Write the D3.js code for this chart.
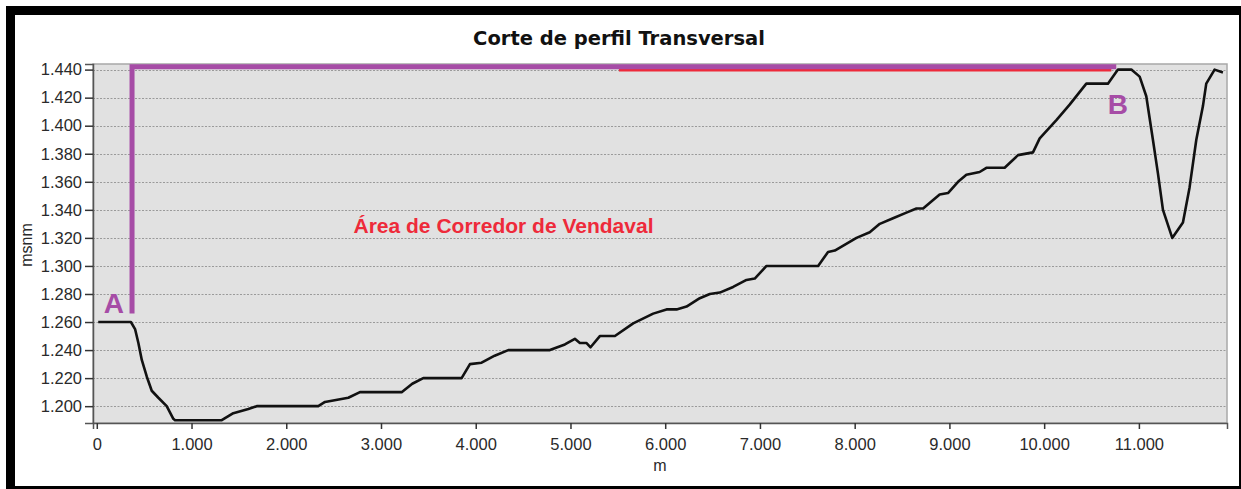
<!DOCTYPE html>
<html>
<head>
<meta charset="utf-8">
<script src="https://cdn.jsdelivr.net/npm/d3@7"></script>
<style>
  body { margin: 0; background: #fff; }
  svg { display: block; }
</style>
</head>
<body>
<div id="chart"></div>
<script>
// profile data: distance (m) and elevation (msnm)
const distance = [15, 360, 404, 439, 475, 528, 580, 650, 738, 808, 826, 1319, 1441, 1600, 1688,
  2338, 2409, 2655, 2778, 3218, 3330, 3446, 3851, 3939, 4062, 4200, 4343, 4783, 4941, 5046,
  5099, 5170, 5212, 5310, 5469, 5662, 5873, 6014, 6120, 6225, 6365, 6471, 6576, 6717, 6858,
  6945, 7069, 7614, 7719, 7790, 8019, 8159, 8265, 8405, 8546, 8652, 8722, 8897, 8985, 9091,
  9179, 9319, 9390, 9583, 9724, 9882, 9953, 10129, 10269, 10445, 10673, 10779, 10920, 11008,
  11078, 11148, 11201, 11254, 11352, 11465, 11535, 11606, 11676, 11711, 11799, 11887];
const elevation = [1260, 1260, 1255, 1245, 1233, 1221, 1211, 1206, 1200, 1191, 1190, 1190, 1195, 1198, 1200,
  1200, 1203, 1206, 1210, 1210, 1216, 1220, 1220, 1230, 1231, 1236, 1240, 1240, 1244, 1248,
  1245, 1245, 1242, 1250, 1250, 1259, 1266, 1269, 1269, 1271, 1277, 1280, 1281, 1285, 1290,
  1291, 1300, 1300, 1310, 1311, 1320, 1324, 1330, 1334, 1338, 1341, 1341, 1351, 1352, 1360,
  1365, 1367, 1370, 1370, 1379, 1381, 1391, 1404, 1415, 1430, 1430, 1440, 1440, 1435,
  1421, 1390, 1366, 1340, 1320, 1331, 1356, 1390, 1414, 1430, 1440, 1438];

const xTicks = [0, 1000, 2000, 3000, 4000, 5000, 6000, 7000, 8000, 9000, 10000, 11000];
const yTicks = [1200, 1220, 1240, 1260, 1280, 1300, 1320, 1340, 1360, 1380, 1400, 1420, 1440];
const xDomain = [-40, 11930];
const yDomain = [1188, 1444];

// corridor markers (A -> B)
const corridorX = [372, 372, 10761];
const corridorY = [1266, 1442, 1442];
const windX = [5511, 10709];
const windY = [1439.7, 1439.7];
const pointLabels = ["A", "B"];
const pointX = [180, 10779];
const pointY = [1266.5, 1408];

const title = "Corte de perfil Transversal";
const areaLabel = "Área de Corredor de Vendaval";

const W = 1241, H = 489;
const margin = { top: 64, right: 14, bottom: 66, left: 93 };
const width = W - margin.left - margin.right;
const height = H - margin.top - margin.bottom;

const locale = d3.formatLocale({ decimal: ",", thousands: ".", grouping: [3], currency: ["", ""] });
const fmt = locale.format(",.0f");

const svg = d3.select("#chart").append("svg")
    .attr("width", W)
    .attr("height", H);

svg.append("rect")
    .attr("x", 10.5).attr("y", 10.5)
    .attr("width", 1233).attr("height", 480)
    .attr("fill", "#fff")
    .attr("stroke", "#000")
    .attr("stroke-width", 9);

svg.append("text")
    .attr("x", 619).attr("y", 45)
    .attr("text-anchor", "middle")
    .style("font-family", "'DejaVu Sans', Verdana, sans-serif")
    .style("font-weight", "bold")
    .style("font-size", "19.5px")
    .attr("fill", "#111")
    .text(title);

const g = svg.append("g")
    .attr("transform", "translate(" + margin.left + "," + margin.top + ")");

const x = d3.scaleLinear().domain(xDomain).range([0, width]);
const y = d3.scaleLinear().domain(yDomain).range([height, 0]);

// plot background
g.append("rect")
    .attr("width", width).attr("height", height)
    .attr("fill", "#e1e1e1")
    .attr("stroke", "#a8a8a8")
    .attr("stroke-width", 1.5);

// grid
g.selectAll(".grid")
    .data(yTicks)
    .enter()
    .append("line")
    .attr("class", "grid")
    .attr("x1", 0).attr("x2", width)
    .attr("y1", d => Math.round(y(d)) + 0.5)
    .attr("y2", d => Math.round(y(d)) + 0.5)
    .attr("stroke", "#9a9a9a")
    .attr("stroke-dasharray", "2,1.5");

// axes
const yAxis = g.append("g")
    .call(d3.axisLeft(y).tickValues(yTicks).tickFormat(fmt).tickSize(8).tickPadding(3));
const xAxis = g.append("g")
    .attr("transform", "translate(0," + height + ")")
    .call(d3.axisBottom(x).tickValues(xTicks).tickFormat(fmt).tickSize(6).tickPadding(9));

[yAxis, xAxis].forEach(a => {
    a.select(".domain").attr("stroke", "#555").attr("stroke-width", 1.5);
    a.selectAll(".tick line").attr("stroke", "#333").attr("stroke-width", 1.5);
    a.selectAll("text")
        .attr("fill", "#2a2a2a")
        .style("font-family", "'Liberation Sans', Arial, sans-serif")
        .style("font-size", "16.5px");
});

// axis titles
svg.append("text")
    .attr("x", margin.left + width / 2).attr("y", 471)
    .attr("text-anchor", "middle")
    .style("font-family", "'Liberation Sans', Arial, sans-serif")
    .style("font-size", "16px")
    .attr("fill", "#2a2a2a")
    .text("m");

svg.append("text")
    .attr("transform", "translate(32,245) rotate(-90)")
    .attr("text-anchor", "middle")
    .style("font-family", "'Liberation Sans', Arial, sans-serif")
    .style("font-size", "16px")
    .attr("fill", "#2a2a2a")
    .text("msnm");

// corridor lines
const pairLine = d3.line().x(d => x(d[0])).y(d => y(d[1]));

g.append("path")
    .datum(d3.zip(windX, windY))
    .attr("d", pairLine)
    .attr("fill", "none")
    .attr("stroke", "#ee2a3a")
    .attr("stroke-width", 3);

g.append("path")
    .datum(d3.zip(corridorX, corridorY))
    .attr("d", pairLine)
    .attr("fill", "none")
    .attr("stroke", "#a64ca6")
    .attr("stroke-width", 5);

// profile
g.append("path")
    .datum(d3.zip(distance, elevation))
    .attr("d", pairLine)
    .attr("fill", "none")
    .attr("stroke", "#111")
    .attr("stroke-width", 2.6)
    .attr("stroke-linejoin", "round");

// labels
g.selectAll(".pt-label")
    .data(pointLabels)
    .enter()
    .append("text")
    .attr("class", "pt-label")
    .attr("x", (d, i) => x(pointX[i]))
    .attr("y", (d, i) => y(pointY[i]))
    .attr("text-anchor", "middle")
    .style("font-family", "'Liberation Sans', Arial, sans-serif")
    .style("font-weight", "bold")
    .style("font-size", "28px")
    .attr("fill", "#a64ca6")
    .text(d => d);

svg.append("text")
    .attr("x", 503.5).attr("y", 233)
    .attr("text-anchor", "middle")
    .style("font-family", "'Liberation Sans', Arial, sans-serif")
    .style("font-weight", "bold")
    .style("font-size", "21px")
    .attr("fill", "#ee2a3a")
    .text(areaLabel);
</script>
</body>
</html>
